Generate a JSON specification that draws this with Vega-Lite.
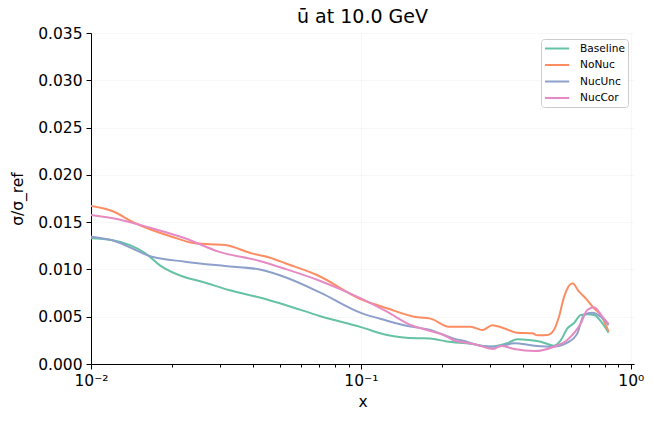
{
  "$schema": "https://vega.github.io/schema/vega-lite/v6.json",
  "autosize": "none",
  "padding": {"left": 91, "top": 33, "right": 20, "bottom": 59},
  "width": 543,
  "height": 331,
  "background": "white",
  "config": {
    "font": "DejaVu Sans",
    "view": {"stroke": null},
    "axis": {
      "domainColor": "black",
      "tickColor": "black",
      "labelColor": "black",
      "titleColor": "black",
      "labelFontSize": 15.5,
      "titleFontSize": 15.5,
      "titleFontWeight": "normal",
      "labelFlush": false,
      "labelOverlap": false,
      "labelBound": false,
      "gridColor": "#000000"
    }
  },
  "title": {"text": "ū at 10.0 GeV", "fontSize": 19, "fontWeight": "normal", "offset": -1, "color": "black"},
  "data": {
    "values": [
      {"x": 0.01, "y": 0.01329, "s": "Baseline"},
      {"x": 0.0119, "y": 0.01311, "s": "Baseline"},
      {"x": 0.0159, "y": 0.0117, "s": "Baseline"},
      {"x": 0.0183, "y": 0.01029, "s": "Baseline"},
      {"x": 0.0223, "y": 0.00917, "s": "Baseline"},
      {"x": 0.0258, "y": 0.0087, "s": "Baseline"},
      {"x": 0.0324, "y": 0.00782, "s": "Baseline"},
      {"x": 0.0418, "y": 0.00705, "s": "Baseline"},
      {"x": 0.0525, "y": 0.00624, "s": "Baseline"},
      {"x": 0.0708, "y": 0.00505, "s": "Baseline"},
      {"x": 0.1, "y": 0.0039, "s": "Baseline"},
      {"x": 0.125, "y": 0.00307, "s": "Baseline"},
      {"x": 0.162, "y": 0.00272, "s": "Baseline"},
      {"x": 0.18, "y": 0.0027, "s": "Baseline"},
      {"x": 0.208, "y": 0.00238, "s": "Baseline"},
      {"x": 0.255, "y": 0.00215, "s": "Baseline"},
      {"x": 0.3, "y": 0.00183, "s": "Baseline"},
      {"x": 0.348, "y": 0.00219, "s": "Baseline"},
      {"x": 0.38, "y": 0.00261, "s": "Baseline"},
      {"x": 0.419, "y": 0.00254, "s": "Baseline"},
      {"x": 0.464, "y": 0.00236, "s": "Baseline"},
      {"x": 0.519, "y": 0.00194, "s": "Baseline"},
      {"x": 0.55, "y": 0.0025, "s": "Baseline"},
      {"x": 0.582, "y": 0.00377, "s": "Baseline"},
      {"x": 0.615, "y": 0.0043, "s": "Baseline"},
      {"x": 0.653, "y": 0.00518, "s": "Baseline"},
      {"x": 0.69, "y": 0.00525, "s": "Baseline"},
      {"x": 0.731, "y": 0.00518, "s": "Baseline"},
      {"x": 0.785, "y": 0.0043, "s": "Baseline"},
      {"x": 0.828, "y": 0.00331, "s": "Baseline"},

      {"x": 0.01, "y": 0.0167, "s": "NoNuc"},
      {"x": 0.0119, "y": 0.0162, "s": "NoNuc"},
      {"x": 0.0146, "y": 0.01488, "s": "NoNuc"},
      {"x": 0.0199, "y": 0.01346, "s": "NoNuc"},
      {"x": 0.0243, "y": 0.01276, "s": "NoNuc"},
      {"x": 0.0314, "y": 0.01258, "s": "NoNuc"},
      {"x": 0.0394, "y": 0.0117, "s": "NoNuc"},
      {"x": 0.0461, "y": 0.01124, "s": "NoNuc"},
      {"x": 0.0525, "y": 0.01065, "s": "NoNuc"},
      {"x": 0.0688, "y": 0.00941, "s": "NoNuc"},
      {"x": 0.1, "y": 0.00685, "s": "NoNuc"},
      {"x": 0.125, "y": 0.00589, "s": "NoNuc"},
      {"x": 0.162, "y": 0.00494, "s": "NoNuc"},
      {"x": 0.181, "y": 0.0048, "s": "NoNuc"},
      {"x": 0.212, "y": 0.00395, "s": "NoNuc"},
      {"x": 0.255, "y": 0.00395, "s": "NoNuc"},
      {"x": 0.282, "y": 0.0036, "s": "NoNuc"},
      {"x": 0.307, "y": 0.0041, "s": "NoNuc"},
      {"x": 0.334, "y": 0.00384, "s": "NoNuc"},
      {"x": 0.38, "y": 0.00331, "s": "NoNuc"},
      {"x": 0.432, "y": 0.00324, "s": "NoNuc"},
      {"x": 0.451, "y": 0.00303, "s": "NoNuc"},
      {"x": 0.491, "y": 0.00307, "s": "NoNuc"},
      {"x": 0.519, "y": 0.0036, "s": "NoNuc"},
      {"x": 0.542, "y": 0.005, "s": "NoNuc"},
      {"x": 0.566, "y": 0.0071, "s": "NoNuc"},
      {"x": 0.608, "y": 0.00853, "s": "NoNuc"},
      {"x": 0.643, "y": 0.00765, "s": "NoNuc"},
      {"x": 0.681, "y": 0.00694, "s": "NoNuc"},
      {"x": 0.731, "y": 0.00589, "s": "NoNuc"},
      {"x": 0.774, "y": 0.00518, "s": "NoNuc"},
      {"x": 0.828, "y": 0.00342, "s": "NoNuc"},

      {"x": 0.01, "y": 0.01346, "s": "NucUnc"},
      {"x": 0.0119, "y": 0.01311, "s": "NucUnc"},
      {"x": 0.0168, "y": 0.01135, "s": "NucUnc"},
      {"x": 0.0223, "y": 0.01082, "s": "NucUnc"},
      {"x": 0.0314, "y": 0.01036, "s": "NucUnc"},
      {"x": 0.0418, "y": 0.01001, "s": "NucUnc"},
      {"x": 0.0525, "y": 0.00917, "s": "NucUnc"},
      {"x": 0.0708, "y": 0.00754, "s": "NucUnc"},
      {"x": 0.1, "y": 0.0054, "s": "NucUnc"},
      {"x": 0.125, "y": 0.00458, "s": "NucUnc"},
      {"x": 0.153, "y": 0.00395, "s": "NucUnc"},
      {"x": 0.181, "y": 0.0036, "s": "NucUnc"},
      {"x": 0.203, "y": 0.00307, "s": "NucUnc"},
      {"x": 0.22, "y": 0.00271, "s": "NucUnc"},
      {"x": 0.247, "y": 0.00236, "s": "NucUnc"},
      {"x": 0.277, "y": 0.00194, "s": "NucUnc"},
      {"x": 0.32, "y": 0.00183, "s": "NucUnc"},
      {"x": 0.37, "y": 0.00219, "s": "NucUnc"},
      {"x": 0.44, "y": 0.00194, "s": "NucUnc"},
      {"x": 0.519, "y": 0.00183, "s": "NucUnc"},
      {"x": 0.582, "y": 0.00225, "s": "NucUnc"},
      {"x": 0.634, "y": 0.00324, "s": "NucUnc"},
      {"x": 0.67, "y": 0.00518, "s": "NucUnc"},
      {"x": 0.72, "y": 0.00543, "s": "NucUnc"},
      {"x": 0.774, "y": 0.005, "s": "NucUnc"},
      {"x": 0.828, "y": 0.00412, "s": "NucUnc"},

      {"x": 0.01, "y": 0.01575, "s": "NucCor"},
      {"x": 0.0126, "y": 0.0153, "s": "NucCor"},
      {"x": 0.0168, "y": 0.01435, "s": "NucCor"},
      {"x": 0.0223, "y": 0.01329, "s": "NucCor"},
      {"x": 0.0297, "y": 0.01188, "s": "NucCor"},
      {"x": 0.0418, "y": 0.01092, "s": "NucCor"},
      {"x": 0.0525, "y": 0.01005, "s": "NucCor"},
      {"x": 0.0708, "y": 0.00878, "s": "NucCor"},
      {"x": 0.1, "y": 0.00694, "s": "NucCor"},
      {"x": 0.125, "y": 0.00553, "s": "NucCor"},
      {"x": 0.153, "y": 0.00412, "s": "NucCor"},
      {"x": 0.181, "y": 0.00349, "s": "NucCor"},
      {"x": 0.203, "y": 0.00307, "s": "NucCor"},
      {"x": 0.22, "y": 0.00254, "s": "NucCor"},
      {"x": 0.262, "y": 0.00211, "s": "NucCor"},
      {"x": 0.31, "y": 0.00159, "s": "NucCor"},
      {"x": 0.33, "y": 0.00194, "s": "NucCor"},
      {"x": 0.37, "y": 0.00159, "s": "NucCor"},
      {"x": 0.44, "y": 0.00137, "s": "NucCor"},
      {"x": 0.519, "y": 0.00183, "s": "NucCor"},
      {"x": 0.582, "y": 0.00254, "s": "NucCor"},
      {"x": 0.653, "y": 0.0043, "s": "NucCor"},
      {"x": 0.69, "y": 0.00571, "s": "NucCor"},
      {"x": 0.731, "y": 0.006, "s": "NucCor"},
      {"x": 0.785, "y": 0.005, "s": "NucCor"},
      {"x": 0.828, "y": 0.00423, "s": "NucCor"}
    ]
  },
  "mark": {"type": "line", "strokeWidth": 2, "clip": true, "interpolate": "monotone"},
  "encoding": {
    "x": {
      "field": "x",
      "type": "quantitative",
      "scale": {"type": "log", "domain": [0.01, 1.028], "nice": false},
      "axis": {
        "title": "x",
        "titlePadding": 6,
        "values": [0.01, 0.02, 0.03, 0.04, 0.05, 0.06, 0.07, 0.08, 0.09, 0.1, 0.2, 0.3, 0.4, 0.5, 0.6, 0.7, 0.8, 0.9, 1],
        "labelExpr": "datum.value == 0.01 ? '10⁻²' : datum.value == 0.1 ? '10⁻¹' : datum.value == 1 ? '10⁰' : ''",
        "labelPadding": 4,
        "tickSize": {"condition": {"test": "datum.value == 0.01 || datum.value == 0.1 || datum.value == 1", "value": 5}, "value": 3},
        "grid": true,
        "gridOpacity": {"condition": {"test": "datum.value == 0.01 || datum.value == 0.1 || datum.value == 1", "value": 0.03}, "value": 0}
      }
    },
    "y": {
      "field": "y",
      "type": "quantitative",
      "scale": {"domain": [0, 0.035], "nice": false},
      "axis": {
        "title": "σ/σ_ref",
        "titlePadding": 12,
        "values": [0, 0.005, 0.01, 0.015, 0.02, 0.025, 0.03, 0.035],
        "format": ".3f",
        "tickSize": 5,
        "labelPadding": 4,
        "grid": true,
        "gridOpacity": 0.03
      }
    },
    "color": {
      "field": "s",
      "type": "nominal",
      "scale": {
        "domain": ["Baseline", "NoNuc", "NucUnc", "NucCor"],
        "range": ["#66c2a5", "#fc8d62", "#8da0cb", "#e78ac3"]
      },
      "legend": {
        "title": null,
        "orient": "top-right",
        "offset": 6,
        "symbolType": "M-1,0L3.4,0",
        "symbolSize": 121,
        "symbolStrokeWidth": 2,
        "symbolFillColor": "transparent",
        "labelFontSize": 10.6,
        "labelColor": "black",
        "labelOffset": 23,
        "rowPadding": 3.5,
        "padding": 3,
        "strokeColor": "#cccccc",
        "fillColor": "white",
        "cornerRadius": 3
      }
    }
  }
}
